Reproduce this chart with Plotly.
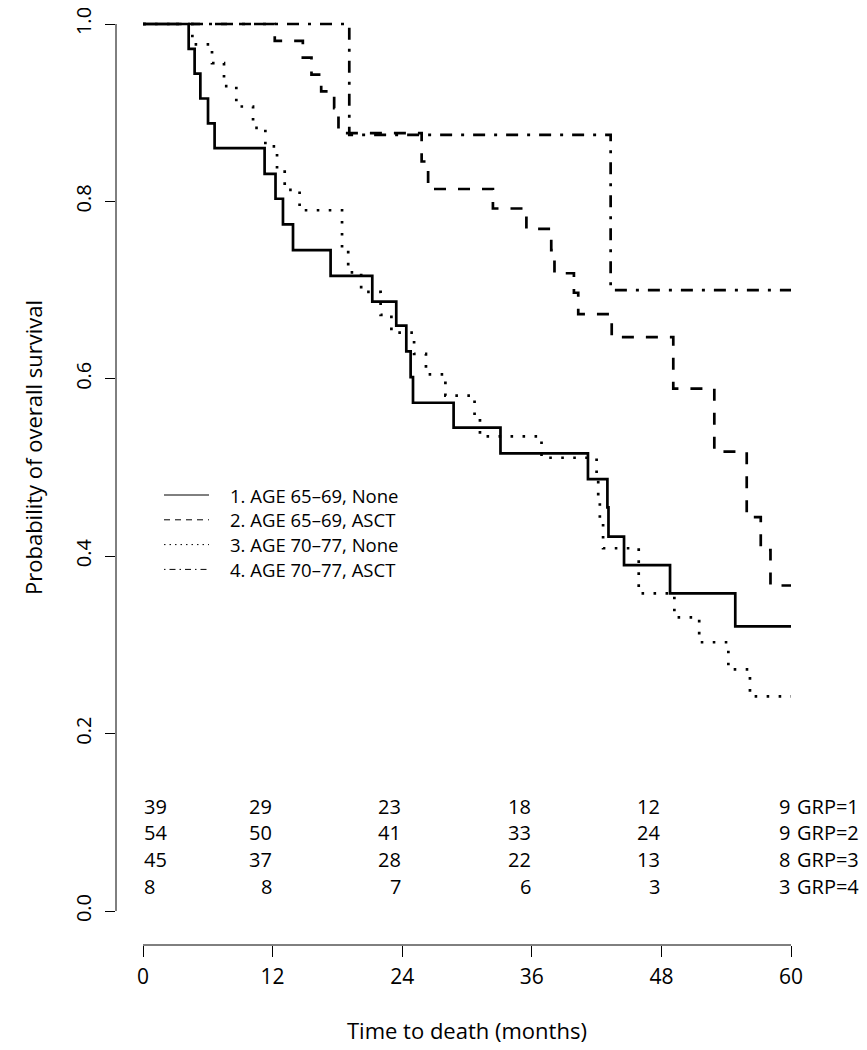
import plotly.graph_objects as go

# ---------------- data ----------------
group_names = ["1. AGE 65\u201369, None", "2. AGE 65\u201369, ASCT",
               "3. AGE 70\u201377, None", "4. AGE 70\u201377, ASCT"]

g1_time = [0, 4.23, 4.78, 5.31, 6.02, 6.63, 11.26, 12.27, 12.96, 13.89, 17.37, 21.23,
           23.45, 24.38, 24.78, 25.0, 28.76, 33.1, 41.2, 43.0, 43.1, 44.54, 48.8, 54.84, 60]
g1_surv = [1.0, 0.972, 0.944, 0.916, 0.888, 0.860, 0.831, 0.803, 0.774, 0.745, 0.716, 0.687,
           0.660, 0.631, 0.602, 0.573, 0.545, 0.516, 0.487, 0.455, 0.422, 0.390, 0.358, 0.321, 0.321]

g2_time = [0, 12.2, 14.8, 15.6, 16.5, 17.7, 18.1, 25.8, 26.4, 32.4, 35.5, 37.8, 38.1,
           39.9, 40.3, 43.4, 49.1, 52.9, 55.9, 57.2, 58.1, 60]
g2_surv = [1.0, 0.981, 0.962, 0.943, 0.924, 0.905, 0.877, 0.845, 0.814, 0.792, 0.769, 0.745, 0.719,
           0.697, 0.673, 0.647, 0.589, 0.518, 0.444, 0.407, 0.367, 0.367]

g3_time = [0, 4.57, 6.39, 7.5, 8.64, 10.19, 11.33, 12.41, 13.12, 14.5, 18.43, 19.0, 20.2,
           22.0, 23.0, 25.1, 26.2, 28.0, 30.7, 31.2, 36.9, 42.0, 42.15, 42.3, 42.6,
           45.9, 49.2, 51.5, 54.2, 56.2, 60]
g3_surv = [1.0, 0.977, 0.956, 0.930, 0.907, 0.883, 0.862, 0.837, 0.813, 0.790, 0.745, 0.720, 0.698,
           0.672, 0.652, 0.628, 0.605, 0.581, 0.557, 0.535, 0.511, 0.488, 0.465, 0.440, 0.409,
           0.358, 0.331, 0.303, 0.2725, 0.242, 0.242]

g4_time = [0, 19.1, 43.3, 60]
g4_surv = [1.0, 0.875, 0.700, 0.700]

risk_times = [0, 12, 24, 36, 48, 60]
risk_g1 = [39, 29, 23, 18, 12, 9]
risk_g2 = [54, 50, 41, 33, 24, 9]
risk_g3 = [45, 37, 28, 22, 13, 8]
risk_g4 = [8, 8, 7, 6, 3, 3]
risk_labels = ["GRP=1", "GRP=2", "GRP=3", "GRP=4"]

x_ticks = [0, 12, 24, 36, 48, 60]
y_ticks = [0.0, 0.2, 0.4, 0.6, 0.8, 1.0]
y_ticktext = ["0.0", "0.2", "0.4", "0.6", "0.8", "1.0"]

x_title = "Time to death (months)"
y_title = "Probability of overall survival"

# ---------------- styles / layout helpers ----------------
FONT = "Open Sans"
FS = 20
W, H = 867, 1050
ML, MR, MT, MB = 108, 57, 5, 113
PW, PH = W - ML - MR, H - MT - MB


def px_x(px):   # figure pixel -> paper x
    return (px - ML) / PW


def px_y(py):   # figure pixel -> paper y
    return (H - MB - py) / PH


curve_dash = ["solid", "12px,12px", "2.6px,9.4px", "3px,9px,12px,9px"]
legend_dash = ["solid", "6px,5px", "1.5px,4px", "1.5px,4px,6px,4px"]

fig = go.Figure()
series = [(g1_time, g1_surv), (g2_time, g2_surv), (g3_time, g3_surv), (g4_time, g4_surv)]
for (t, s), dash, name in zip(series, curve_dash, group_names):
    fig.add_trace(go.Scatter(x=t, y=s, mode="lines", name=name,
                             line=dict(color="black", width=2.7, dash=dash, shape="hv"),
                             showlegend=False, hoverinfo="skip", cliponaxis=False))

annotations = []
shapes = []

# legend (R-style, drawn inside the plot)
leg_rows_px = [487, 511.8, 536.6, 561.4]
for name, dash, py in zip(group_names, legend_dash, leg_rows_px):
    shapes.append(dict(type="line", xref="paper", yref="paper", x0=px_x(156), x1=px_x(201),
                       y0=px_y(py), y1=px_y(py), line=dict(color="black", width=1, dash=dash)))
    annotations.append(dict(x=px_x(221), y=px_y(py), xref="paper", yref="paper", text=name,
                            showarrow=False, xanchor="left", yanchor="middle", borderpad=0,
                            font=dict(family=FONT, size=18.5, color="black")))

# risk table
row_y = [0.1182, 0.0889, 0.0586, 0.0282]
for rows, ry, lab in zip([risk_g1, risk_g2, risk_g3, risk_g4], row_y, risk_labels):
    for i, (tx, n) in enumerate(zip(risk_times, rows)):
        annotations.append(dict(x=tx, y=ry, xref="x", yref="y", text=str(n), showarrow=False,
                                xanchor="left" if i == 0 else "right", yanchor="middle", borderpad=0,
                                font=dict(family=FONT, size=FS, color="black")))
    annotations.append(dict(x=risk_times[-1], y=ry, xref="x", yref="y", text=lab, showarrow=False,
                            xanchor="left", xshift=5, yanchor="middle", borderpad=0,
                            font=dict(family=FONT, size=FS, color="black")))

# axis titles
annotations.append(dict(x=px_x(25), y=px_y(440), xref="paper", yref="paper", text=y_title,
                        textangle=-90, showarrow=False, xanchor="center", yanchor="middle",
                        font=dict(family=FONT, size=22, color="black")))
annotations.append(dict(x=30, y=px_y(1022), xref="x", yref="paper", text=x_title,
                        showarrow=False, xanchor="center", yanchor="middle",
                        font=dict(family=FONT, size=22, color="black")))

# R-style axis lines spanning only the tick range
shapes += [
    dict(type="line", xref="x", yref="paper", x0=x_ticks[0], x1=x_ticks[-1], y0=0, y1=0,
         line=dict(color="black", width=1)),
    dict(type="line", xref="paper", yref="y", x0=0, x1=0, y0=y_ticks[0], y1=y_ticks[-1],
         line=dict(color="black", width=1)),
]

fig.update_layout(
    width=W, height=H,
    margin=dict(l=ML, r=MR, t=MT, b=MB, autoexpand=False),
    paper_bgcolor="white", plot_bgcolor="white",
    font=dict(family=FONT, size=FS, color="black"),
    showlegend=False,
    xaxis=dict(range=[-2.5, 62.5], tickvals=x_ticks, ticks="outside", ticklen=11, tickwidth=1,
               tickcolor="black", showgrid=False, zeroline=False, showline=False, automargin=False,
               ticklabelstandoff=2, tickfont=dict(family=FONT, size=21)),
    yaxis=dict(range=[-0.0383, 1.0124], tickvals=y_ticks, ticktext=y_ticktext, tickangle=-90,
               ticks="outside", ticklen=10, tickwidth=1, tickcolor="black", automargin=False,
               showgrid=False, zeroline=False, showline=False, ticklabelstandoff=6,
               ticklabeloverflow="allow", tickfont=dict(family=FONT, size=20)),
    annotations=annotations, shapes=shapes,
)

fig.write_html("out.html")
